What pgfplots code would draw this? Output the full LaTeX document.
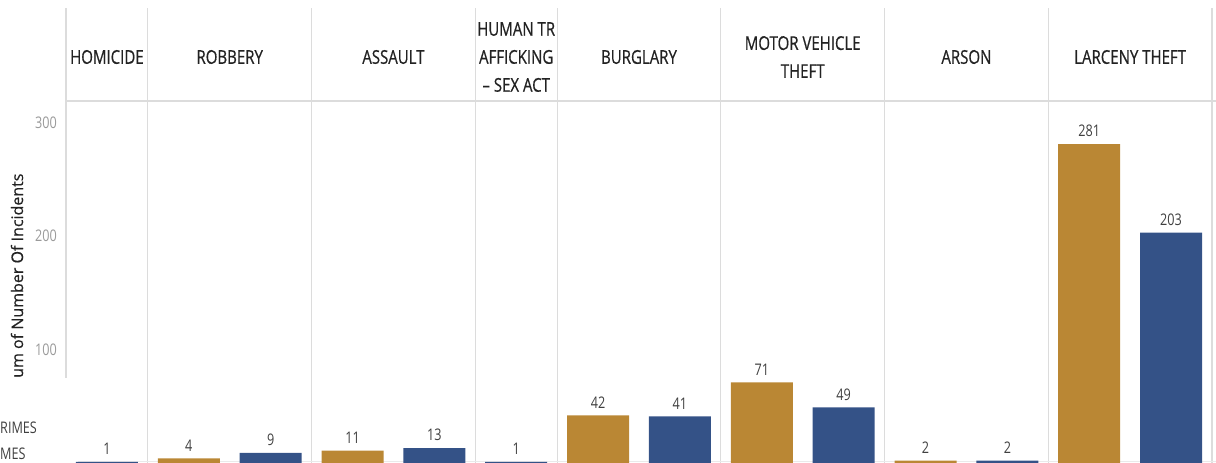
\documentclass[border=0pt]{standalone}
\usepackage{fontspec}
\setmainfont{Open Sans}
\newfontfamily\cf{Open Sans}[FakeStretch=0.79]
\newfontfamily\hf{Open Sans}[FakeStretch=0.79, FakeBold=0.6]
\newfontfamily\rf{Open Sans}[FakeBold=0.5]
\usepackage{pgfplots}
\pgfplotsset{compat=1.18}
\definecolor{cOr}{HTML}{BA8734}
\definecolor{cBl}{HTML}{345287}
\definecolor{gridc}{HTML}{DCDCDC}
\definecolor{tickc}{HTML}{9A9A9A}
\definecolor{labc}{HTML}{404040}
\definecolor{headc}{HTML}{222222}
\pgfplotstableread{
x y
1.5 4
3.5 11
6.5 42
8.5 71
10.5 2
12.5 281
}\orange
\pgfplotstableread{
x y
0.5 1
2.5 9
4.5 13
5.5 1
7.5 41
9.5 49
11.5 2
13.5 203
}\blue
\begin{document}
\begin{tikzpicture}
\useasboundingbox (0,0) rectangle (1216pt,463pt);
\clip (0,0) rectangle (1216pt,463pt);
\begin{axis}[at={(66pt,0pt)}, anchor=south west,
  x=81.857pt, y=1.135pt, xmin=0, xmax=14, ymin=0, ymax=318.9,
  clip=false, axis line style={draw=none},
  xtick=\empty, ytick={100,200,300}, major tick length=0pt,
  /pgf/number format/assume math mode=true,
  yticklabel style={font=\cf\fontsize{16}{18}\selectfont, text=tickc, inner sep=0pt, xshift=-9pt},
  every node near coord/.append style={font=\cf\fontsize{16}{18}\selectfont, text=labc, inner sep=0pt, anchor=south, yshift=7pt},
]
% grid / frame lines
\foreach \xx in {1,3,5,6,8,10,12,14} {
  \edef\tmp{\noexpand\draw[gridc, line width=1.2pt] (axis cs:\xx,0) -- (axis cs:\xx,400.9);}\tmp
}
\draw[gridc, line width=1.2pt] (axis cs:0,75.3) -- (axis cs:0,400.9);
\draw[gridc, line width=1.2pt] (axis cs:0,318.9) -- (axis cs:14.1,318.9);
\draw[gridc!60, line width=1pt] (axis cs:0.15,0.9) -- (axis cs:14.1,0.9);
% bars
\addplot[ybar, bar width=62pt, bar shift=0pt, fill=cOr, draw=none, nodes near coords] table[x=x,y=y] {\orange};
\addplot[ybar, bar width=62pt, bar shift=0pt, fill=cBl, draw=none, nodes near coords] table[x=x,y=y] {\blue};
% header
\begin{scope}[every node/.style={font=\hf\fontsize{19}{28}\selectfont, text=headc, align=center, inner sep=0pt}]
\node at (axis cs:0.5,357.7) {HOMICIDE};
\node at (axis cs:2,357.7) {ROBBERY};
\node at (axis cs:4,357.7) {ASSAULT};
\node at (axis cs:5.5,357.7) {HUMAN TR\\AFFICKING\\– SEX ACT};
\node at (axis cs:7,357.7) {BURGLARY};
\node at (axis cs:9,357.7) {MOTOR VEHICLE\\THEFT};
\node at (axis cs:11,357.7) {ARSON};
\node at (axis cs:13,357.7) {LARCENY THEFT};
\end{scope}
\end{axis}
\node[rotate=90, anchor=west, inner sep=0pt, font=\rf\fontsize{16}{18}\selectfont, text=headc] at (17pt,85pt) {um of Number Of Incidents};
\node[anchor=west, inner sep=0pt, font=\cf\fontsize{16}{18}\selectfont, text=labc] at (0pt,35pt) {RIMES};
\node[anchor=west, inner sep=0pt, font=\cf\fontsize{16}{18}\selectfont, text=labc] at (0pt,9pt) {MES};
\end{tikzpicture}
\end{document}
